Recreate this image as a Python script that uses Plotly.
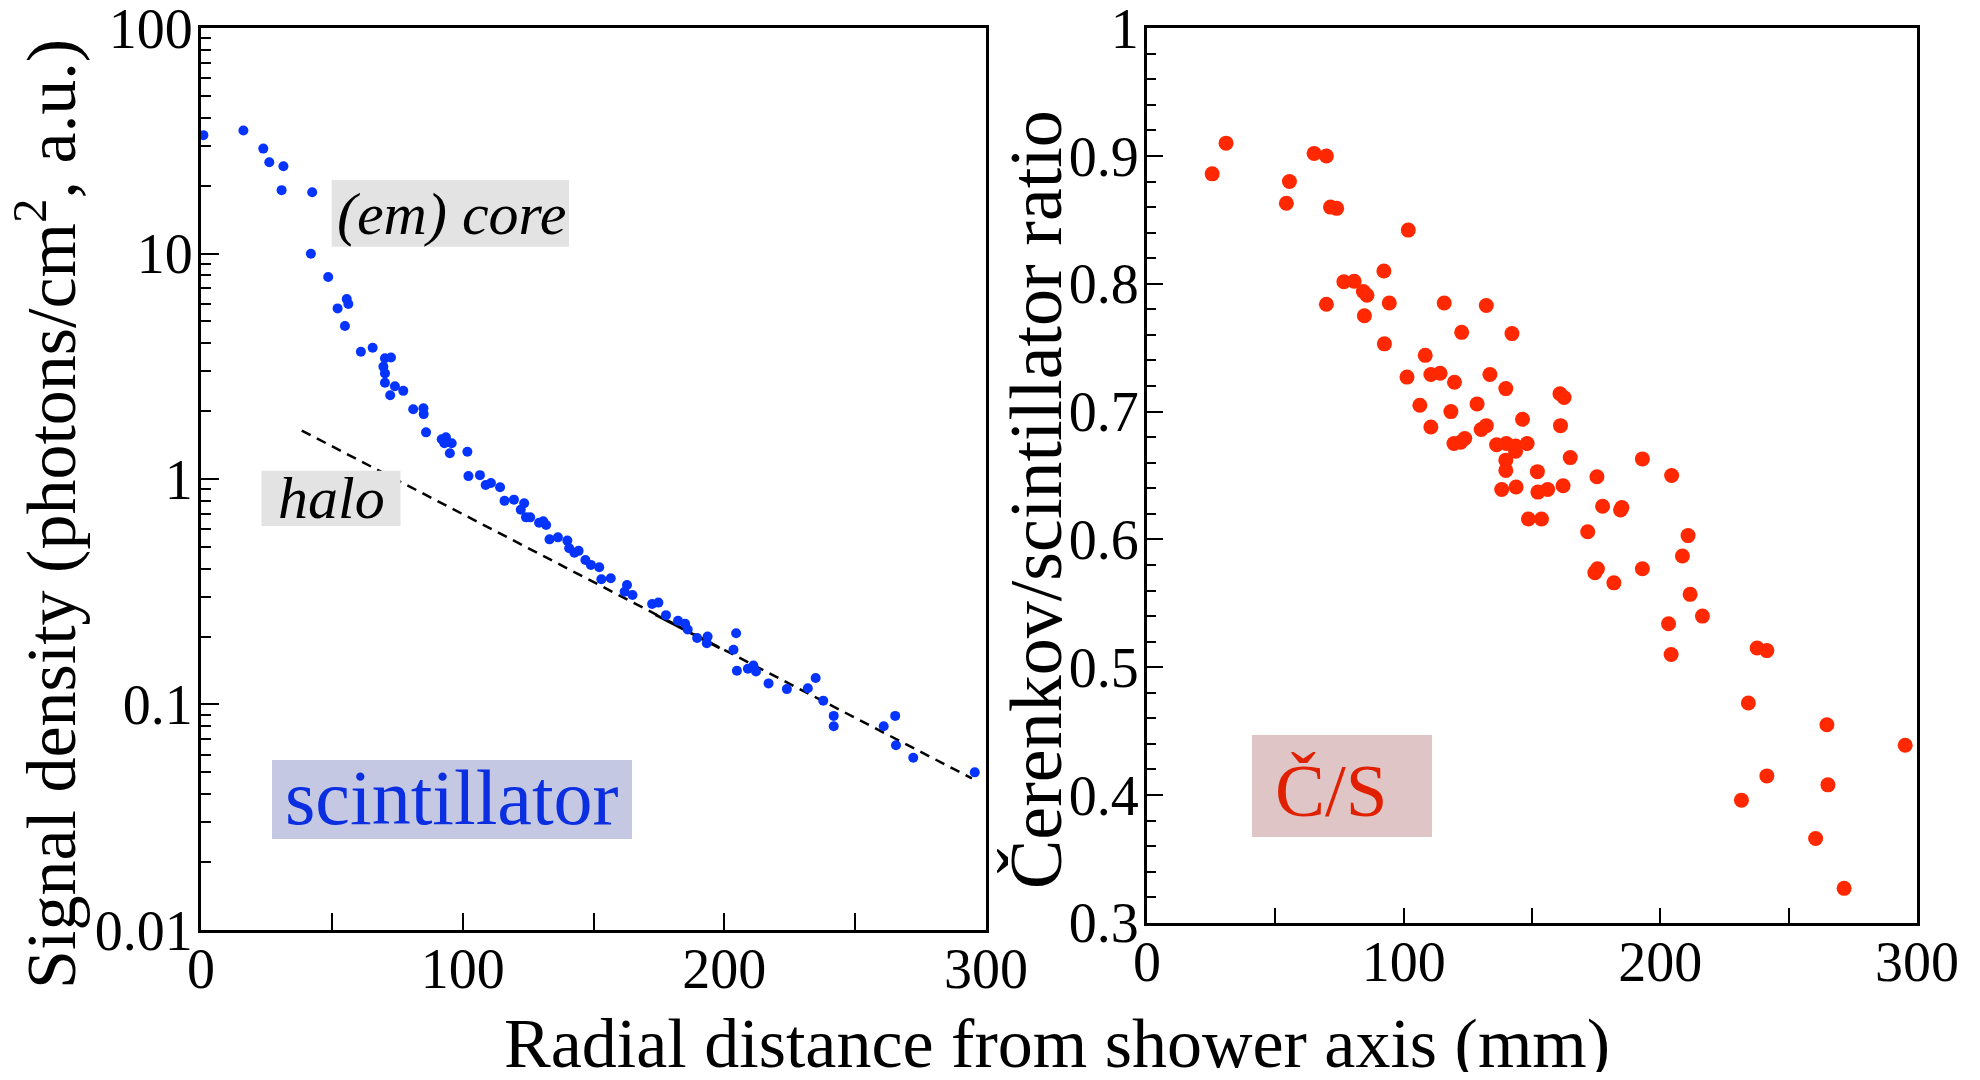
import plotly.graph_objects as go

# ---------------- data ----------------
scint_x = [0.9, 16.2, 23.8, 26.1, 31.5, 30.8, 42.5, 42.0, 48.6, 52.2, 55.7, 56.3, 55.0, 61.1, 65.6,
           70.3, 72.6, 69.7, 70.3, 70.3, 74.1, 77.3, 72.3, 81.1, 85.0, 85.1, 86.0, 92.0, 93.6, 93.0,
           95.8, 95.1, 101.8, 102.2, 106.6, 108.8, 110.8, 114.3,
           116.0, 119.6, 123.5, 122.2, 124.2, 125.8, 129.2, 131.9, 130.8, 133.2, 136.4, 140.0, 140.7,
           142.7, 144.3, 146.9, 149.0, 152.2, 153.0, 156.6, 162.8, 161.9, 164.9, 172.4, 174.8, 177.7,
           182.3, 185.0, 186.0, 189.6, 193.6, 193.3, 204.5, 203.5, 204.8, 209.0, 211.1, 212.1, 216.9,
           223.9, 231.9, 234.9, 237.8, 241.8, 241.8, 260.9, 265.3, 265.6, 272.2, 295.7]
scint_y = [33.5, 35.1, 29.2, 25.4, 24.4, 19.1, 18.7, 9.98, 7.87, 5.71, 6.29, 5.97, 4.77, 3.67, 3.82,
           3.43, 3.46, 3.15, 2.94, 2.67, 2.58, 2.46, 2.35, 2.04, 2.06, 1.94, 1.61, 1.50, 1.53, 1.44,
           1.44, 1.30, 1.32, 1.03, 1.04, 0.94, 0.96, 0.92,
           0.80, 0.81, 0.78, 0.73, 0.676, 0.676, 0.64, 0.625, 0.65, 0.54, 0.551, 0.533, 0.493,
           0.471, 0.48, 0.437, 0.416, 0.406, 0.359, 0.363, 0.339, 0.316, 0.306, 0.279, 0.283, 0.249,
           0.235, 0.228, 0.215, 0.197, 0.20, 0.187, 0.207, 0.175, 0.141, 0.144, 0.149, 0.14, 0.124,
           0.117, 0.118, 0.131, 0.104, 0.089, 0.080, 0.080, 0.089, 0.066, 0.058, 0.050]

halo_x = [38.5, 294.6]
halo_y = [1.64, 0.047]
halo_solid_x = [173.7, 198.2]
halo_solid_y = [0.25, 0.178]

cs_x = [30.8, 25.4, 65.1, 69.9, 55.5, 54.3, 71.5, 73.9, 101.8, 92.3, 76.7, 80.7, 84.3, 85.7, 69.9,
        94.4, 115.8, 132.2, 84.7, 122.6, 142.2, 92.5, 108.4, 101.3, 110.6, 114.2, 119.8, 133.6, 139.8,
        160.9, 162.5, 106.3, 118.4, 128.6, 146.3, 161.1, 110.6, 130.2, 132.2, 119.6, 122.2, 123.8,
        136.2, 140.0, 143.6, 148.1, 143.6, 139.8, 164.9, 193.0, 139.8, 152.1, 175.3, 204.4, 138.2,
        143.8, 152.3, 156.1, 162.1, 177.5, 184.5, 185.0, 148.6, 153.7, 171.7, 210.8, 208.6, 174.5,
        175.5, 193.0, 181.9, 211.6, 216.4, 203.2, 204.2, 237.7, 241.5, 234.3, 264.9, 295.4, 241.5,
        265.3, 231.6, 260.5, 271.6]
cs_y = [0.910, 0.886, 0.902, 0.900, 0.880, 0.863, 0.860, 0.859, 0.842, 0.810, 0.8016, 0.802, 0.794,
        0.791, 0.784, 0.785, 0.785, 0.783, 0.775, 0.762, 0.761, 0.753, 0.744, 0.727, 0.729, 0.730,
        0.723, 0.729, 0.718, 0.714, 0.711, 0.705, 0.700, 0.706, 0.694, 0.689, 0.688, 0.686, 0.689,
        0.675, 0.676, 0.679, 0.674, 0.675, 0.673, 0.675, 0.669, 0.662, 0.664, 0.663, 0.654, 0.653,
        0.649, 0.650, 0.639, 0.641, 0.637, 0.639, 0.642, 0.626, 0.623, 0.625, 0.616, 0.616, 0.606,
        0.603, 0.587, 0.574, 0.577, 0.577, 0.566, 0.557, 0.540, 0.534, 0.510, 0.515, 0.513, 0.472,
        0.455, 0.439, 0.415, 0.408, 0.396, 0.366, 0.327]

x_tickvals = [0, 50, 100, 150, 200, 250, 300]
x_ticktext = ["0", " ", "100", " ", "200", " ", "300"]
left_y_tickvals = [0.01, 0.1, 1, 10, 100]
left_y_ticktext = ["0.01", "0.1", "1", "10", "100"]
right_y_tickvals = [0.3, 0.4, 0.5, 0.6, 0.7, 0.8, 0.9, 1.0]
right_y_ticktext = ["0.3", "0.4", "0.5", "0.6", "0.7", "0.8", "0.9", "1"]

# ---------------- layout helpers (window pixel -> paper) ----------------
# the page body keeps its default 8px margin, so the figure is sized to fit inside the window
OFF = 8
W, H = 1980 - 2 * OFF, 1080 - 2 * OFF
def px(X):
    return (X - OFF) / W
def py(Y):
    return 1 - (Y - OFF) / H

FONT = "Liberation Serif"
BLUE = "#0534ff"
RED = "#ff2800"

fig = go.Figure()

fig.add_trace(go.Scatter(x=halo_x, y=halo_y, mode="lines", xaxis="x", yaxis="y",
                         line=dict(color="black", width=2.5, dash="10px,7px"), showlegend=False))
fig.add_trace(go.Scatter(x=halo_solid_x, y=halo_solid_y, mode="lines", xaxis="x", yaxis="y",
                         line=dict(color="black", width=3), showlegend=False))
fig.add_trace(go.Scatter(x=scint_x, y=scint_y, mode="markers", xaxis="x", yaxis="y",
                         marker=dict(color=BLUE, size=10, line=dict(width=0)), showlegend=False))
fig.add_trace(go.Scatter(x=cs_x, y=cs_y, mode="markers", xaxis="x2", yaxis="y2",
                         marker=dict(color=RED, size=15, line=dict(width=0)), showlegend=False))

tickfont = dict(family=FONT, size=56, color="black")
common = dict(showgrid=False, zeroline=False, showline=True, linecolor="black", linewidth=3,
              mirror=True, ticks="inside", tickcolor="black", tickfont=tickfont, automargin=False,
              ticklabeloverflow="allow")

fig.update_layout(
    width=W, height=H,
    margin=dict(l=0, r=0, t=0, b=0, autoexpand=False),
    paper_bgcolor="white", plot_bgcolor="white",
    xaxis=dict(domain=[px(201), px(986)], range=[0, 300], anchor="y",
               tickmode="array", tickvals=x_tickvals, ticktext=x_ticktext,
               ticklen=17, tickwidth=2, ticklabelstandoff=-12, **common),
    yaxis=dict(domain=[py(930), py(28)], type="log", range=[-2.0002, 2.0002], anchor="x",
               tickmode="array", tickvals=left_y_tickvals, ticktext=left_y_ticktext,
               ticklen=18, tickwidth=2, ticklabelstandoff=-6,
               minor=dict(ticks="inside", ticklen=10, tickwidth=2, tickcolor="black",
                          dtick="D1", showgrid=False),
               **common),
    xaxis2=dict(domain=[px(1147), px(1917)], range=[0, 300], anchor="y2",
                tickmode="array", tickvals=x_tickvals, ticktext=x_ticktext,
                ticklen=15, tickwidth=2, ticklabelstandoff=-12, **common),
    yaxis2=dict(domain=[py(923), py(28)], range=[0.2999, 1.0001], anchor="x2",
                tickmode="array", tickvals=right_y_tickvals, ticktext=right_y_ticktext,
                ticklen=16, tickwidth=2, ticklabelstandoff=-6,
                minor=dict(ticks="inside", ticklen=9, tickwidth=2, tickcolor="black",
                           dtick=0.02, showgrid=False),
                **common),
)

# label boxes
boxes = [
    (331.7, 180, 569, 246.7, "#e3e3e3"),
    (261.5, 470.7, 400.5, 526, "#e3e3e3"),
    (272, 760, 632, 839, "#c5c8e3"),
    (1252, 735, 1432, 837, "#dfc5c5"),
]
shapes = []
for x0, y0, x1, y1, col in boxes:
    shapes.append(dict(type="rect", xref="paper", yref="paper", x0=px(x0), x1=px(x1),
                       y0=py(y1), y1=py(y0), fillcolor=col, line=dict(width=0), layer="above"))
fig.update_layout(shapes=shapes)

ann = []
def add_text(text, X, Y, size, color="black", italic=False, angle=0):
    ann.append(dict(text=text, x=px(X), y=py(Y), xref="paper", yref="paper",
                    xanchor="center", yanchor="middle", showarrow=False, textangle=angle,
                    font=dict(family=FONT, size=size, color=color,
                              style="italic" if italic else "normal")))

add_text("(em) core", 451, 214, 60, italic=True)
add_text("halo", 331, 498, 60, italic=True)
add_text("scintillator", 452, 797, 78, color="#0a2ee0")
add_text("Č/S", 1331, 790, 75, color="#e02000")
add_text("Radial distance from shower axis (mm)", 1057, 1043, 70)
add_text("Signal density (photons/cm<sup>2</sup>, a.u.)", 46, 514, 70, angle=-90)
add_text("Čerenkov/scintillator ratio", 1036, 500, 74, angle=-90)
fig.update_layout(annotations=ann)

fig.write_html("out.html")
